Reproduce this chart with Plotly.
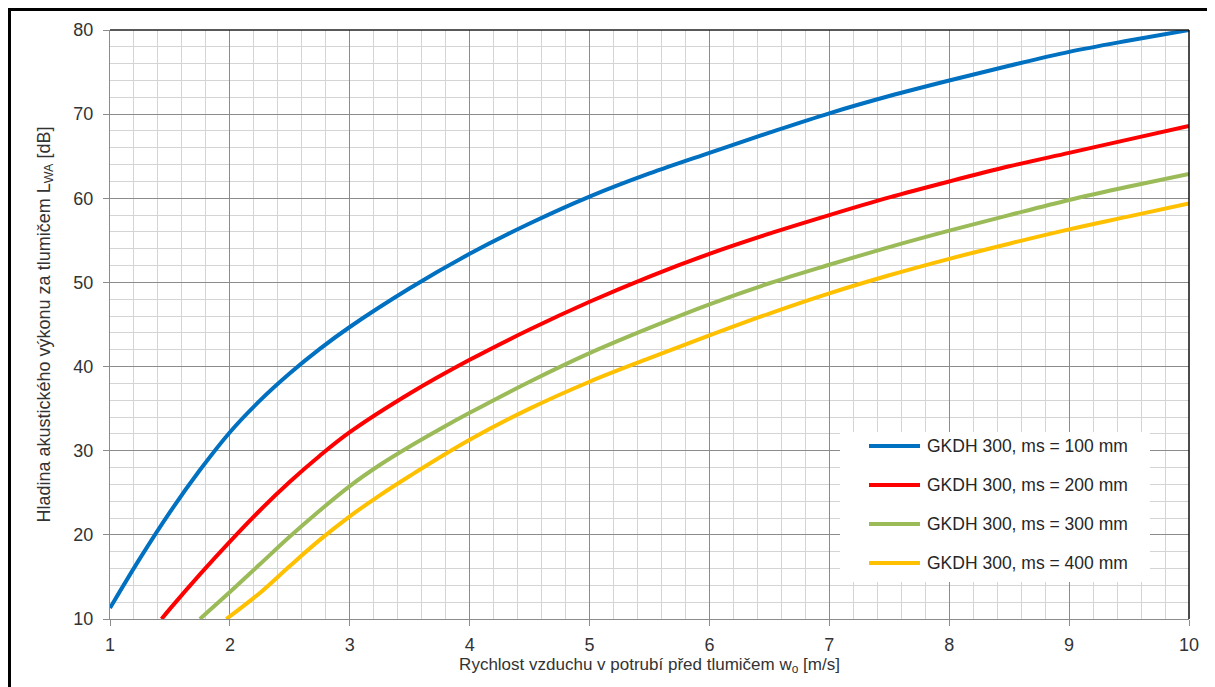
import plotly.graph_objects as go

# --- data ---
x_100 = [1, 1.25, 1.5, 1.75, 2, 2.25, 2.5, 2.75, 3, 3.5, 4, 4.5, 5, 5.5, 6, 6.5, 7, 7.5, 8, 8.5, 9, 9.5, 10]
y_100 = [11.3, 17.2, 22.7, 27.7, 32.2, 35.95, 39.2, 42.1, 44.7, 49.3, 53.4, 57.0, 60.2, 62.95, 65.4, 67.8, 70.1, 72.15, 74.0, 75.75, 77.4, 78.75, 80.0]

x_200 = [1.43, 1.5, 1.75, 2, 2.25, 2.5, 2.75, 3, 3.5, 4, 4.5, 5, 5.5, 6, 6.5, 7, 7.5, 8, 8.5, 9, 9.5, 10]
y_200 = [10.0, 11.2, 15.3, 19.2, 22.9, 26.3, 29.4, 32.2, 36.8, 40.8, 44.4, 47.7, 50.7, 53.4, 55.8, 58.0, 60.1, 62.0, 63.8, 65.4, 67.0, 68.6]

x_300 = [1.75, 2, 2.25, 2.5, 2.75, 3, 3.25, 3.5, 3.75, 4, 4.5, 5, 5.5, 6, 6.5, 7, 7.5, 8, 8.5, 9, 9.5, 10]
y_300 = [10.0, 13.2, 16.5, 19.8, 22.9, 25.8, 28.3, 30.5, 32.55, 34.5, 38.2, 41.6, 44.6, 47.4, 49.9, 52.1, 54.2, 56.15, 58.0, 59.8, 61.4, 62.9]

x_400 = [1.97, 2.25, 2.5, 2.75, 3, 3.25, 3.5, 4, 4.5, 5, 5.5, 6, 6.5, 7, 7.5, 8, 8.5, 9, 9.5, 10]
y_400 = [10.0, 13.1, 16.3, 19.4, 22.2, 24.7, 27.0, 31.3, 35.0, 38.2, 41.0, 43.7, 46.3, 48.7, 50.85, 52.8, 54.6, 56.3, 57.85, 59.4]

names = ["GKDH 300, ms = 100 mm", "GKDH 300, ms = 200 mm",
         "GKDH 300, ms = 300 mm", "GKDH 300, ms = 400 mm"]
colors = ["#0070C0", "#FF0000", "#9BBB59", "#FFC000"]

x_ticks = [1, 2, 3, 4, 5, 6, 7, 8, 9, 10]
y_ticks = [10, 20, 30, 40, 50, 60, 70, 80]

x_title = "Rychlost vzduchu v potrubí před tlumičem w<sub>o</sub> [m/s]"
y_title = "Hladina akustického výkonu za tlumičem L<sub>WA</sub> [dB]"

font_family = "Liberation Sans, Arial, sans-serif"

fig = go.Figure()
series = [(x_100, y_100), (x_200, y_200), (x_300, y_300), (x_400, y_400)]
for (xs, ys), nm, c in zip(series, names, colors):
    fig.add_trace(go.Scatter(
        x=xs, y=ys, mode="lines", name=nm, showlegend=False,
        line=dict(color=c, width=4, shape="spline", smoothing=1.0),
    ))

# --- plot-area geometry (figure is drawn inside the page's 8px body margin) ---
ML, MR, MT, MB = 102, 26, 22, 68
W, H = 1207, 679
PW, PH = W - ML - MR, H - MT - MB


def px_x(px):  # window px -> paper x
    return (px - 8 - ML) / PW


def px_y(py):  # window px -> paper y
    return (H - MB - (py - 8)) / PH


shapes = [
    # top and right plot-area borders
    dict(type="line", xref="paper", yref="paper", x0=0, x1=1, y0=1, y1=1,
         line=dict(color="#222222", width=1.5)),
    dict(type="line", xref="paper", yref="paper", x0=1, x1=1, y0=0, y1=1,
         line=dict(color="#111111", width=1.5)),
    # outer chart frame
    dict(type="rect", xref="paper", yref="paper",
         x0=px_x(9.5), x1=1.05, y0=-0.14, y1=px_y(9.5),
         line=dict(color="black", width=3), fillcolor="rgba(0,0,0,0)",
         layer="above"),
    # legend box
    dict(type="rect", xref="paper", yref="paper",
         x0=px_x(840), x1=px_x(1150), y0=px_y(582), y1=px_y(432),
         line=dict(width=0), fillcolor="white", layer="above"),
]
annotations = []
legend_rows = [446, 485, 524, 563]
for nm, c, ry in zip(names, colors, legend_rows):
    shapes.append(dict(type="line", xref="paper", yref="paper",
                       x0=px_x(869), x1=px_x(920), y0=px_y(ry), y1=px_y(ry),
                       line=dict(color=c, width=4), layer="above"))
    annotations.append(dict(xref="paper", yref="paper", x=px_x(925), y=px_y(ry),
                            xanchor="left", yanchor="middle", showarrow=False,
                            text=nm, font=dict(size=17.5, color="#262626", family=font_family)))

fig.update_layout(
    width=W, height=H,
    margin=dict(l=ML, r=MR, t=MT, b=MB),
    paper_bgcolor="white", plot_bgcolor="white",
    font=dict(family=font_family, color="#333333", size=17),
    showlegend=False,
    xaxis=dict(
        range=[1, 10], tickvals=x_ticks, ticktext=[str(v) for v in x_ticks],
        showgrid=True, gridcolor="#8c8c8c", gridwidth=1,
        minor=dict(dtick=0.2, tick0=1, showgrid=True, gridcolor="#d4d4d4", gridwidth=1),
        showline=True, linecolor="#8c8c8c", linewidth=1,
        ticks="outside", ticklen=6, tickcolor="#8c8c8c",
        tickfont=dict(size=18, color="#333333"), ticklabelstandoff=3,
        title=dict(text=x_title, font=dict(size=17, color="#333333"), standoff=2),
        zeroline=False,
    ),
    yaxis=dict(
        range=[10, 80], tickvals=y_ticks, ticktext=[str(v) for v in y_ticks],
        showgrid=True, gridcolor="#8c8c8c", gridwidth=1,
        minor=dict(dtick=2, tick0=10, showgrid=True, gridcolor="#d4d4d4", gridwidth=1),
        showline=True, linecolor="#8c8c8c", linewidth=1,
        ticks="outside", ticklen=6, tickcolor="#8c8c8c",
        tickfont=dict(size=18, color="#333333"), ticklabelstandoff=6,
        title=dict(text=y_title, font=dict(size=18, color="#333333"), standoff=18),
        zeroline=False,
    ),
    shapes=shapes,
    annotations=annotations,
)

fig.write_html("out.html")
